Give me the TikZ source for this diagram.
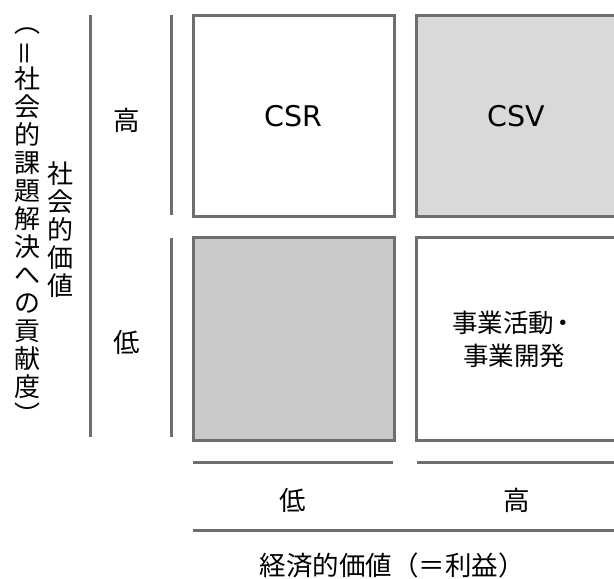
\documentclass[tikz,border=0pt]{standalone}
\usepackage{fontspec}
\usepackage{graphicx}
\setmainfont{Noto Sans CJK JP}
\newfontfamily\latinfont{DejaVu Sans}
\definecolor{edgegray}{HTML}{6E6E6E}
\definecolor{lightfill}{HTML}{D9D9D9}
\definecolor{midfill}{HTML}{CACACA}
\tikzset{
  cell/.style={draw=edgegray, line width=3pt},
  bar/.style={draw=edgegray, line width=3pt},
  lbl/.style={inner sep=0pt, font=\fontsize{26.5}{28}\selectfont, text=black},
  vlbl/.style={inner sep=0pt, align=center, font=\fontsize{26}{28}\selectfont, text=black},
  celltext/.style={inner sep=0pt, align=center, text=black},
}
\begin{document}
\begin{tikzpicture}[x=1pt, y=-1pt]
\useasboundingbox (0,0) rectangle (614,579);
\fill[white] (0,0) rectangle (614,579);
\clip (0,0) rectangle (614,579);
% cells
\draw[cell, fill=white] (193,15) rectangle (394,216);
\draw[cell, fill=lightfill] (416,15) rectangle (617,216);
\draw[cell, fill=midfill] (193,237) rectangle (394,440);
\draw[cell, fill=white] (416,237) rectangle (617,440);
\node[celltext, font=\latinfont\fontsize{28.5}{30}\selectfont] (csr) at (293.5,116) {CSR};
\node[celltext, font=\latinfont\fontsize{28.5}{30}\selectfont] (csv) at (516.5,116) {CSV};
\node[celltext, font=\fontsize{25.5}{33}\selectfont] (biz) at (514,339) {事業活動\kern-0.15em・\\事業開発};
% vertical bars
\coordinate (v1t) at (90,15); \coordinate (v1b) at (90,437);
\coordinate (v2t) at (171,15); \coordinate (v2m) at (171,215);
\coordinate (v3t) at (171,238); \coordinate (v3b) at (171,437);
\draw[bar] (v1t) -- (v1b);
\draw[bar] (v2t) -- (v2m);
\draw[bar] (v3t) -- (v3b);
% horizontal bars
\coordinate (h1a) at (193,462); \coordinate (h1b) at (393,462);
\coordinate (h2a) at (417,462); \coordinate (h2b) at (617,462);
\coordinate (h3a) at (193,530); \coordinate (h3b) at (617,530);
\draw[bar] (h1a) -- (h1b);
\draw[bar] (h2a) -- (h2b);
\draw[bar] (h3a) -- (h3b);
% labels
\node[lbl] (rowhi) at (127,120) {高};
\node[lbl] (rowlo) at (127,342) {低};
\node[lbl] (collo) at (293,500) {低};
\node[lbl] (colhi) at (517,500) {高};
\node[lbl] (xtitle) at (392,565) {経済的価値（＝利益）};
\node[vlbl] (ytitle) at (60,230) {社\\会\\的\\価\\値};
\node[vlbl] (ysub) at (28,226) {︵\\\rotatebox[origin=c]{90}{＝}\\社\\会\\的\\課\\題\\解\\決\\へ\\の\\貢\\献\\度\\︶};
\end{tikzpicture}
\end{document}
